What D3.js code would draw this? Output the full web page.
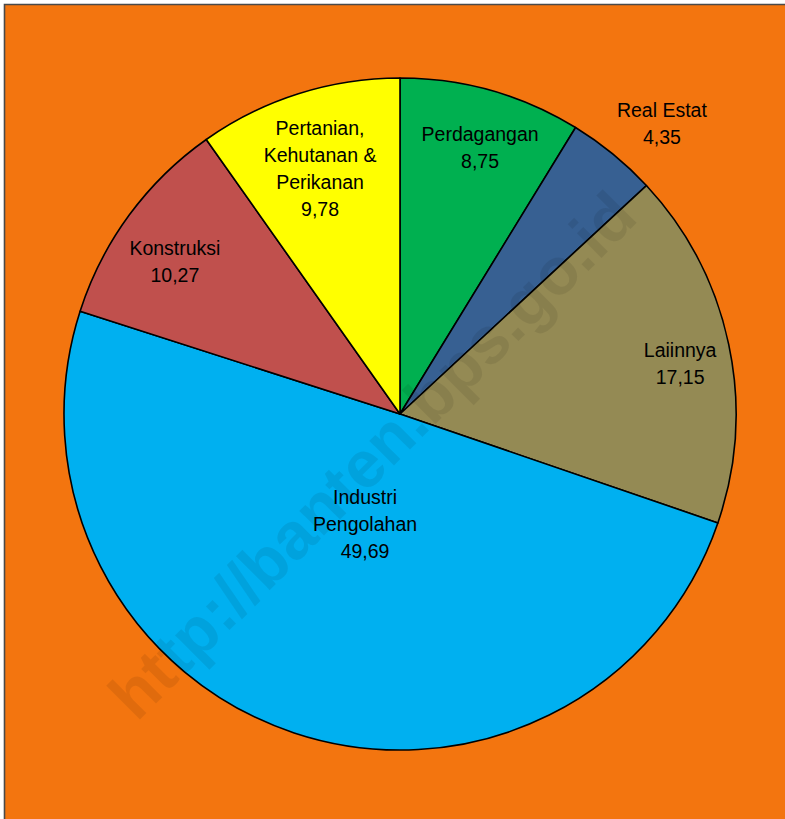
<!DOCTYPE html>
<html>
<head>
<meta charset="utf-8">
<script src="https://cdn.jsdelivr.net/npm/d3@7"></script>
<style>
  html, body { margin: 0; padding: 0; background: #ffffff; }
  svg { display: block; }
  text { font-family: "Liberation Sans", Arial, sans-serif; }
</style>
</head>
<body>
<svg id="chart" width="785" height="819"></svg>
<script>
// Share of sectors (%), clockwise from 12 o'clock
const categories = ["Perdagangan", "Real Estat", "Laiinnya", "Industri Pengolahan", "Konstruksi", "Pertanian, Kehutanan & Perikanan"];
const labelLines = [["Perdagangan"], ["Real Estat"], ["Laiinnya"], ["Industri", "Pengolahan"], ["Konstruksi"], ["Pertanian,", "Kehutanan &", "Perikanan"]];
const values = [8.75, 4.35, 17.15, 49.69, 10.27, 9.78];
const valueLabels = ["8,75", "4,35", "17,15", "49,69", "10,27", "9,78"];

// Slice colours and label placement: fraction of the radius, and a small
// angular nudge (degrees) from each slice's mid-angle
const colors = ["#00B050", "#376092", "#948A54", "#00B0F0", "#C0504D", "#FFFF00"];
const labelRadius = [0.827, 1.164, 0.847, 0.343, 0.809, 0.768];
const labelShift = [1.0, 2.7, 1.8, -0.7, -2.2, -0.45];

const W = 785, H = 819;
const cx = 400, cy = 414, R = 336;

const svg = d3.select("#chart");

// Orange panel with a dark edge on its top and left sides
svg.append("rect").attr("x", 4).attr("y", 4).attr("width", W).attr("height", H)
  .attr("fill", "#F3750F");
svg.append("path").attr("d", `M4.5,${H} L4.5,4.5 L${W},4.5`)
  .attr("fill", "none").attr("stroke", "#4a4a4a").attr("stroke-width", 1.6);

const pie = d3.pie().sort(null).value(d => d)(values);
const arc = d3.arc().innerRadius(0).outerRadius(R);

const g = svg.append("g").attr("transform", `translate(${cx},${cy})`);

g.selectAll("path.slice").data(pie).join("path")
  .attr("class", "slice")
  .attr("d", arc)
  .attr("fill", (d, i) => colors[i])
  .attr("stroke", "#000")
  .attr("stroke-width", 1.6)
  .attr("stroke-linejoin", "round");

// Faint site watermark across the pie
svg.append("text")
  .attr("transform", "translate(372,455) rotate(-45)")
  .attr("text-anchor", "middle")
  .attr("dominant-baseline", "central")
  .attr("font-size", 66)
  .attr("font-weight", "bold")
  .attr("fill", "#000")
  .attr("fill-opacity", 0.08)
  .text("http://banten.bps.go.id");

// Data labels: category name lines followed by the value
const fs = 19.5, lh = 27;
pie.forEach((d, i) => {
  const k = labelRadius[i] * R;
  const mid = (d.startAngle + d.endAngle) / 2 + labelShift[i] * Math.PI / 180;
  const [lx, ly] = d3.arc().innerRadius(k).outerRadius(k)
    .centroid({ startAngle: mid, endAngle: mid });
  const lines = labelLines[i].concat([valueLabels[i]]);
  const t = g.append("text")
    .attr("text-anchor", "middle")
    .attr("font-size", fs)
    .attr("fill", "#000");
  const y0 = ly - (lines.length - 1) * lh / 2 + fs * 0.35;
  lines.forEach((s, j) => {
    t.append("tspan").attr("x", lx).attr("y", y0 + j * lh).text(s);
  });
});
</script>
</body>
</html>
